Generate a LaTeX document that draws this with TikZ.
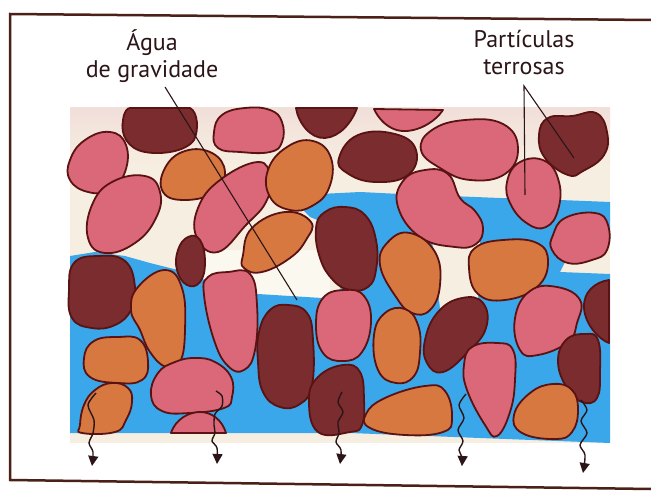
\documentclass[tikz,border=0pt]{standalone}
\usepackage{fontspec}
\setmainfont{PT Sans}
\usetikzlibrary{arrows.meta}
\definecolor{soilcream}{HTML}{F6EEE1}
\definecolor{soilblush}{HTML}{F1DFD9}
\definecolor{gapwhite}{HTML}{FBF8F0}
\definecolor{water}{HTML}{3AA7EA}
\definecolor{grainpink}{HTML}{DA6879}
\definecolor{grainorange}{HTML}{D6783F}
\definecolor{graindark}{HTML}{7A2C2E}
\definecolor{grainline}{HTML}{5A1212}
\definecolor{framebrown}{HTML}{4A2018}
\definecolor{inkdark}{HTML}{2B1518}
\begin{document}
\begin{tikzpicture}[x=1pt,y=-1pt,
  grain/.style={draw=grainline, line width=1.8pt, line join=round},
  pk/.style={grain, fill=grainpink},
  org/.style={grain, fill=grainorange},
  drk/.style={grain, fill=graindark},
  lbl/.style={font=\fontsize{24}{27}\selectfont, text=inkdark, align=center, inner sep=0pt},
  leader/.style={draw=inkdark, line width=1.1pt},
  seep/.style={draw=inkdark, line width=1.4pt, -{Triangle[length=10pt,width=10pt]}},
  sm/.style={smooth cycle, tension=0.75}
]
\useasboundingbox (0,0) rectangle (651,492);
\fill[white] (0,0) rectangle (651,492);

% frame
\draw[framebrown, line width=2.5pt] (651,20) -- (10,14) -- (10,480) -- (651,489);

% soil background (air filled pores)
\fill[soilcream] (70,108) rectangle (610,443);
\shade[top color=soilblush, bottom color=soilcream] (70,108) rectangle (610,165);
\fill[gapwhite] (200,250) rectangle (330,300);

% gravity water
\fill[water] (70,256) -- (95,252) -- (125,256) -- (150,263) -- (178,270) -- (205,280)
  -- (230,290) -- (258,294) -- (290,296) -- (322,298) -- (340,292) -- (345,250)
  -- (322,222) -- (310,217) -- (298,205) -- (320,194) -- (360,192) -- (400,194)
  -- (450,196) -- (500,198) -- (560,200) -- (610,202) -- (610,240) -- (590,250)
  -- (565,262) -- (560,272) -- (610,274) -- (610,443) -- (350,433) -- (70,433) -- cycle;
\fill[soilcream] (432,240) -- (480,236) -- (478,300) -- (470,305) -- (440,308) -- cycle;

% top row
\path[drk] (130,108) -- (190,108) .. controls (198,112) and (199,130) .. (194,140)
  .. controls (186,152) and (160,155) .. (145,152) .. controls (128,149) and (120,135) .. (123,120)
  .. controls (124,112) and (127,108) .. (130,108) -- cycle;
\path[pk] plot[sm] coordinates {(214,132) (222,115) (245,108) (270,110) (282,122) (282,142) (270,152) (240,152) (218,148)};
\path[drk] (296,108) -- (357,108) .. controls (352,122) and (340,137) .. (325,138)
  .. controls (310,139) and (298,122) .. (296,108) -- cycle;
\path[pk] (374,109) -- (443,110) .. controls (435,122) and (418,132) .. (402,131)
  .. controls (388,130) and (378,118) .. (374,109) -- cycle;
\path[pk] plot[sm] coordinates {(421,150) (432,130) (465,120) (503,124) (518,148) (505,174) (470,180) (440,168)};
\path[drk] plot[sm] coordinates {(539,135) (548,118) (572,116) (596,113) (607,132) (604,155) (583,171) (568,175) (545,158)};

% upper left and middle grains
\path[pk] plot[sm] coordinates {(70,160) (85,140) (110,132) (126,145) (125,172) (110,190) (88,192) (70,180)};
\path[org] plot[sm] coordinates {(165,168) (185,151) (212,153) (225,172) (215,192) (185,200) (163,192)};
\path[pk] plot[sm] coordinates {(92,205) (112,182) (145,176) (160,192) (156,218) (135,243) (105,253) (88,238)};
\path[pk] plot[sm] coordinates {(198,208) (220,180) (258,162) (270,178) (266,202) (246,225) (218,252) (197,238)};
\path[org] plot[sm] coordinates {(268,170) (287,147) (313,141) (331,158) (329,188) (312,206) (290,210) (270,197)};
\path[drk] plot[sm] coordinates {(339,158) (358,135) (395,134) (416,150) (408,175) (375,182) (347,173)};
\path[org] plot[sm] coordinates {(243,255) (252,228) (285,212) (311,222) (306,240) (290,258) (262,272) (244,268)};
\path[drk] plot[sm] coordinates {(178,250) (188,237) (200,240) (205,262) (200,282) (187,285) (177,270)};
\path[drk] plot[sm] coordinates {(316,228) (325,212) (345,207) (365,215) (376,240) (376,270) (368,287) (350,290) (333,280) (320,258)};
\path[pk] plot[sm] coordinates {(398,207) (403,181) (425,170) (448,174) (460,198) (475,211) (483,228) (476,244) (455,247) (420,237)};
\path[pk] plot[sm] coordinates {(507,182) (520,162) (545,161) (559,182) (558,210) (546,227) (528,224) (511,205)};
\path[pk] plot[sm] coordinates {(553,235) (565,218) (595,213) (608,225) (607,250) (592,260) (568,263) (552,250)};
\path[org] plot[sm] coordinates {(380,265) (388,242) (410,233) (435,252) (440,285) (430,310) (412,313) (396,297)};
\path[org] plot[sm] coordinates {(469,268) (475,248) (503,240) (537,243) (548,262) (537,287) (505,300) (478,294)};

% lower grains
\path[drk] plot[sm] coordinates {(69,290) (74,263) (98,256) (125,261) (135,287) (131,310) (115,325) (92,328) (72,318)};
\path[org] plot[sm] coordinates {(131,310) (138,287) (165,270) (182,288) (185,330) (180,362) (166,367) (150,352) (140,330)};
\path[pk] plot[sm] coordinates {(204,295) (208,277) (228,272) (250,274) (257,305) (255,350) (244,370) (228,366) (214,340)};
\path[drk] plot[sm] coordinates {(259,332) (270,310) (288,305) (307,313) (313,340) (312,385) (300,404) (280,407) (263,392) (258,362)};
\path[pk] plot[sm] coordinates {(316,325) (323,298) (345,290) (364,296) (371,322) (362,352) (343,361) (323,353)};
\path[org] plot[sm] coordinates {(374,335) (385,313) (405,309) (418,325) (420,352) (414,376) (396,383) (378,370)};
\path[drk] plot[sm] coordinates {(425,340) (438,312) (462,298) (483,303) (486,328) (468,352) (443,372) (427,363)};
\path[pk] plot[sm] coordinates {(515,318) (530,291) (557,287) (580,300) (577,323) (568,342) (538,355) (520,350)};
\path[drk] (609,280) -- (609,343) .. controls (600,340) and (585,325) .. (584,308)
  .. controls (583,292) and (595,282) .. (609,280) -- cycle;
\path[drk] plot[sm] coordinates {(558,362) (566,340) (585,334) (598,340) (600,372) (597,398) (582,402) (567,388)};
\path[org] plot[sm] coordinates {(84,358) (94,341) (118,337) (140,340) (148,362) (142,380) (118,383) (90,377)};
\path[org] plot[sm] coordinates {(80,425) (84,405) (95,390) (112,383) (128,388) (132,402) (126,420) (115,432) (82,433)};
\path[pk] plot[sm] coordinates {(151,395) (158,373) (175,362) (195,358) (215,362) (231,377) (232,397) (224,408) (190,413) (162,411)};
\path[pk] (171,433) .. controls (176,418) and (190,412) .. (200,412)
  .. controls (212,412) and (222,420) .. (226,433) -- cycle;
\path[drk] plot[sm] coordinates {(309,400) (318,377) (343,365) (360,372) (364,400) (362,425) (350,432) (318,432)};
\path[org] plot[sm] coordinates {(366,414) (385,398) (425,386) (445,391) (452,418) (443,432) (405,435) (370,428)};
\path[pk] plot[sm] coordinates {(464,365) (472,347) (497,343) (513,350) (515,380) (510,412) (497,436) (485,425) (467,390)};
\path[org] plot[sm] coordinates {(514,415) (530,393) (553,384) (572,390) (578,410) (572,432) (555,439) (522,433)};

% labels and leader lines (base anchor sits on the last line)
\node[lbl, anchor=base] (agua) at (152,78) {Água\\de gravidade};
\node[lbl, anchor=base] (terra) at (524,75) {Partículas\\terrosas};
\coordinate (aguafoot) at (165,87);
\coordinate (aguatip) at (297,300);
\coordinate (terrafoot) at (524,86);
\coordinate (terratipA) at (525,195);
\coordinate (terratipB) at (574,158);
\draw[leader] (aguafoot) -- (aguatip);
\draw[leader] (terratipA) -- (terrafoot) -- (terratipB);

% water draining downwards
\draw[seep] plot[smooth] coordinates {(96,393) (88,405) (94,420) (93,433) (89,443) (93,452) (92,466)};
\draw[seep] plot[smooth] coordinates {(216,391) (222,396) (222,406) (215,414) (214,425) (215,433) (212,441) (217,448) (217,464)};
\draw[seep] plot[smooth] coordinates {(342,392) (338,402) (343,412) (338,422) (339,433) (336,442) (341,450) (340,464)};
\draw[seep] plot[smooth] coordinates {(466,394) (459,405) (464,418) (458,430) (463,441) (459,450) (462,457) (462,466)};
\draw[seep] plot[smooth] coordinates {(581,400) (587,410) (581,421) (587,433) (580,445) (585,455) (583,473)};
\end{tikzpicture}
\end{document}
